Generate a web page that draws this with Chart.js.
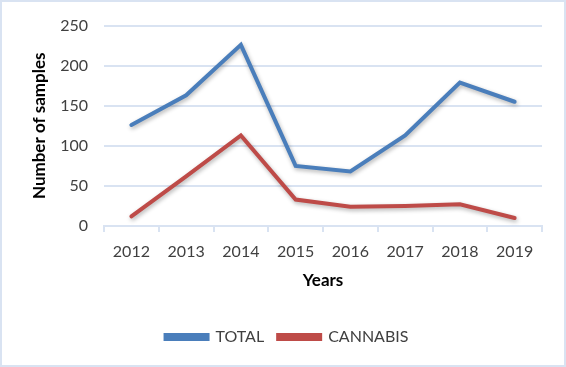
<!DOCTYPE html>
<html>
<head>
<meta charset="utf-8">
<script src="https://cdn.jsdelivr.net/npm/chart.js@4.4.1/dist/chart.umd.min.js"></script>
<style>
html, body { margin: 0; padding: 0; background: #fff; }
canvas { display: block; }
#frame { position: absolute; left: 0; top: 0; width: 562px; height: 363px; border: 2px solid #d9e3f2; pointer-events: none; }
</style>
</head>
<body>
<canvas id="chart" width="566" height="367"></canvas>
<div id="frame"></div>
<script>
var years = ['2012', '2013', '2014', '2015', '2016', '2017', '2018', '2019'];
var totalSamples = [126, 163, 226, 75, 68, 113, 179, 155];
var cannabisSamples = [12, 62, 113, 33, 24, 25, 27, 10];
var yMin = 0, yMax = 250, yStep = 50;

var gridBlue = '#d9e3f2';
var tickFont = { family: 'Lato', size: 16 };

// soft drop shadow under the lines, like the Excel original
var lineShadow = {
    id: 'lineShadow',
    beforeDatasetDraw: function (chart) {
        var c = chart.ctx;
        c.save();
        c.shadowColor = 'rgba(0, 0, 0, 0.3)';
        c.shadowBlur = 4;
        c.shadowOffsetX = 1;
        c.shadowOffsetY = 2;
    },
    afterDatasetDraw: function (chart) {
        chart.ctx.restore();
    }
};

var ctx = document.getElementById('chart').getContext('2d');
new Chart(ctx, {
    type: 'line',
    data: {
        labels: years,
        datasets: [{
            label: 'TOTAL',
            data: totalSamples,
            borderColor: '#4a7ebb',
            backgroundColor: '#4a7ebb',
            borderWidth: 4,
            borderCapStyle: 'round',
            pointRadius: 0,
            tension: 0
        }, {
            label: 'CANNABIS',
            data: cannabisSamples,
            borderColor: '#be4b48',
            backgroundColor: '#be4b48',
            borderWidth: 4,
            borderCapStyle: 'round',
            pointRadius: 0,
            tension: 0
        }]
    },
    options: {
        responsive: false,
        animation: false,
        layout: { padding: { top: 24, right: 24, left: 32, bottom: 12 } },
        plugins: {
            tooltip: { enabled: false },
            legend: {
                position: 'bottom',
                labels: {
                    boxWidth: 42,
                    boxHeight: 4,
                    padding: 14,
                    color: '#404040',
                    font: tickFont
                }
            }
        },
        scales: {
            y: {
                min: yMin,
                max: yMax,
                ticks: { stepSize: yStep, color: '#404040', font: tickFont, padding: 16 },
                grid: { color: gridBlue, lineWidth: 2, drawTicks: false },
                border: { display: false },
                title: {
                    display: true,
                    text: 'Number of samples',
                    color: '#000',
                    font: { family: 'Lato', size: 17, weight: 'bold' },
                    padding: { top: -3, bottom: 0 }
                },
                afterFit: function (scale) { scale.width = 72; }
            },
            x: {
                offset: true,
                ticks: { color: '#404040', font: tickFont, padding: 10, maxRotation: 0 },
                grid: { offset: true, drawOnChartArea: false, color: gridBlue, lineWidth: 2, tickLength: 6 },
                border: { color: gridBlue, width: 2 },
                title: {
                    display: true,
                    text: 'Years',
                    color: '#000',
                    font: { family: 'Lato', size: 17, weight: 'bold' },
                    padding: { top: 8, bottom: 24 }
                },
                afterFit: function (scale) { scale.height = 89; }
            }
        }
    },
    plugins: [lineShadow]
});
</script>
</body>
</html>
